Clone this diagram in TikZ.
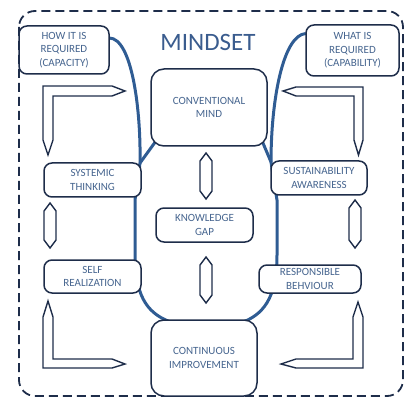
\documentclass[tikz,border=0pt]{standalone}
\usepackage{fontspec}
\setmainfont{Carlito}
\usetikzlibrary{calc}
\definecolor{navy}{HTML}{1E2D4A}
\definecolor{linkblue}{HTML}{2F5C93}
\definecolor{labelblue}{HTML}{46658F}
\definecolor{titleblue}{HTML}{3A5C8E}
\tikzset{
  box/.style={draw=navy, line width=1.5pt, fill=white, rounded corners=8pt,
    inner sep=0pt, align=center, text=labelblue,
    font=\fontsize{11}{13.5}\selectfont},
  bigbox/.style={box, rounded corners=13pt},
  link/.style={draw=linkblue, line width=3pt},
  hollow/.style={draw=navy, line width=1.4pt, fill=white, line join=miter},
  frame/.style={draw=navy, line width=1.8pt, dash pattern=on 9pt off 5pt, rounded corners=16pt}
}
% vertical double-pointed hollow bar: centre x, top y, bottom y
\newcommand\vbar[3]{%
  \path[hollow] ({#1-6},{#2+8}) -- (#1,#2) -- ({#1+6},{#2+8}) -- ({#1+6},{#3-8})
    -- (#1,#3) -- ({#1-6},{#3-8}) -- cycle;}
\begin{document}
\begin{tikzpicture}[x=1pt,y=-1pt]
\useasboundingbox (0,0) rectangle (412,398);
% outer dashed frame
\draw[frame] (19,11) rectangle (403,396);
\node[text=titleblue, font=\fontsize{25}{28}\selectfont] (title) at (208,42) {MINDSET};

% node positions
\coordinate (pHow) at (64,50);
\coordinate (pWhat) at (352.5,50.5);
\coordinate (pConv) at (209,107.5);
\coordinate (pSys) at (92.5,180);
\coordinate (pSust) at (319,178);
\coordinate (pGap) at (204.5,225);
\coordinate (pSelf) at (92.5,276.5);
\coordinate (pResp) at (310,279);
\coordinate (pCont) at (204,358);

% boxes are placed first (invisible) so that links can refer to them
\path[use as bounding box=false]
  (pHow) node[minimum width=90pt, minimum height=48pt] (how0) {}
  (pWhat) node[minimum width=93pt, minimum height=51pt] (what0) {}
  (pConv) node[minimum width=116pt, minimum height=77pt] (conv0) {}
  (pCont) node[minimum width=106pt, minimum height=76pt] (cont0) {};

% blue links forming the mindset loop
\coordinate (lj) at (140,163);
\coordinate (rj) at (271,162);
\draw[link] ([yshift=12pt]how0.east) .. controls (132,38) and (141,110) .. (lj)
  -- (135,200) -- (135,255) .. controls (135,300) and (150,315) .. ($(cont0.north west)+(22,3)$);
\draw[link] ([yshift=17pt]what0.west) .. controls (283,35) and (271,100) .. (rj)
  -- (277,200) -- (277,255) .. controls (277,300) and (262,315) .. ($(cont0.north east)+(-16,3)$);
\draw[link] ($(conv0.south west)+(5,-5)$) -- (lj);
\draw[link] ($(conv0.south east)+(-5,-5)$) -- (rj);

% boxes
\node[box, minimum width=90pt, minimum height=48pt] (how) at (pHow) {HOW IT IS\\REQUIRED\\(CAPACITY)};
\node[box, minimum width=93pt, minimum height=51pt] (what) at (pWhat) {WHAT IS\\REQUIRED\\(CAPABILITY)};
\node[bigbox, minimum width=116pt, minimum height=77pt] (conv) at (pConv) {CONVENTIONAL\\MIND};
\node[box, minimum width=97pt, minimum height=34pt] (sys) at (pSys) {SYSTEMIC\\THINKING};
\node[box, minimum width=96pt, minimum height=34pt] (sust) at (pSust) {SUSTAINABILITY\\AWARENESS};
\node[box, minimum width=97pt, minimum height=34pt] (gap) at (pGap) {KNOWLEDGE\\GAP};
\node[box, minimum width=97pt, minimum height=33pt] (self) at (pSelf) {SELF\\REALIZATION};
\node[box, minimum width=102pt, minimum height=28pt] (resp) at (pResp) {RESPONSIBLE\\BEHVIOUR};
\node[bigbox, minimum width=106pt, minimum height=76pt] (cont) at (pCont) {CONTINUOUS\\IMPROVEMENT};

% hollow bent arrows in the corners
\path[hollow] (43,86) -- (112,86) -- (125,91) -- (112,96) -- (53,96) -- (53,140)
  -- (48,155) -- (43,140) -- cycle;
\path[hollow] (363,87) -- (296,87) -- (283,91) -- (296,96) -- (354,96) -- (354,140)
  -- (358.5,155) -- (363,140) -- cycle;
\path[hollow] (43,368) -- (43,317) -- (48,301) -- (53,317) -- (53,359) -- (112,359)
  -- (125,364) -- (112,368) -- cycle;
\path[hollow] (363,368) -- (363,317) -- (358,302) -- (353,317) -- (353,359) -- (296,359)
  -- (281,364) -- (296,368) -- cycle;

% double-pointed bars
\vbar{50}{203}{248}
\vbar{355}{200}{248}
\vbar{206}{153}{199}
\vbar{206}{257}{303}
\end{tikzpicture}
\end{document}
